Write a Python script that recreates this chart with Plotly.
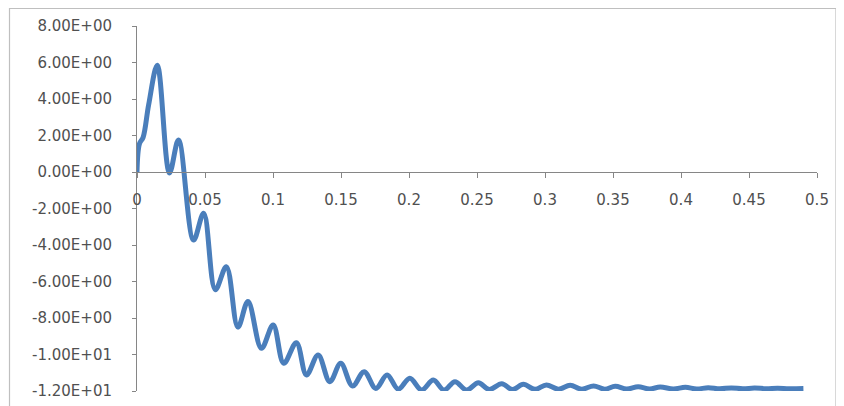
import plotly.graph_objects as go

# Extrema / key points
t_values = [0, 0.0018, 0.0045, 0.0086, 0.0149, 0.0239, 0.0305, 0.0416, 0.0490, 0.0576,
            0.0657, 0.0742, 0.0816, 0.0915, 0.1001, 0.1079, 0.1172, 0.1246, 0.1332, 0.1418,
            0.1498, 0.1585, 0.1670, 0.1756, 0.1839, 0.1921, 0.2006, 0.2093, 0.2179, 0.2258,
            0.2338, 0.2424, 0.2510, 0.2590, 0.2682, 0.2760, 0.2841, 0.2926, 0.3010, 0.3098,
            0.3185, 0.3270, 0.3357, 0.3440, 0.3516, 0.3600, 0.3685, 0.3770, 0.3847, 0.3944,
            0.4032, 0.4115, 0.4200, 0.4285, 0.4370, 0.4455, 0.4540, 0.4625, 0.4710, 0.4795,
            0.4900]
signal_values = [0, 1.55, 1.9, 3.7, 5.85, -0.05, 1.75, -3.73, -2.26, -6.45,
                 -5.19, -8.5, -7.1, -9.66, -8.38, -10.48, -9.35, -11.12, -10.03, -11.49,
                 -10.48, -11.73, -10.94, -11.86, -11.12, -11.9, -11.3, -11.95, -11.4, -11.95,
                 -11.49, -11.95, -11.55, -11.92, -11.6, -11.92, -11.63, -11.91, -11.67, -11.9,
                 -11.68, -11.9, -11.72, -11.9, -11.74, -11.89, -11.77, -11.89, -11.78, -11.89,
                 -11.8, -11.89, -11.82, -11.88, -11.83, -11.88, -11.84, -11.87, -11.85, -11.87,
                 -11.86]

y_tick_values = [8, 6, 4, 2, 0, -2, -4, -6, -8, -10, -12]
y_tick_labels = ["8.00E+00", "6.00E+00", "4.00E+00", "2.00E+00", "0.00E+00", "-2.00E+00",
                 "-4.00E+00", "-6.00E+00", "-8.00E+00", "-1.00E+01", "-1.20E+01"]
x_tick_values = [0, 0.05, 0.1, 0.15, 0.2, 0.25, 0.3, 0.35, 0.4, 0.45, 0.5]
x_tick_labels = ["0", "0.05", "0.1", "0.15", "0.2", "0.25", "0.3", "0.35", "0.4", "0.45", "0.5"]

# page body has an 8px default margin; figure is sized to fill the rest
OFF = 8
W, H = 844 - OFF, 406 - OFF
ML, MR, MT, MB = 137 - OFF, 27, 26 - OFF, 15
PW, PH = W - ML - MR, H - MT - MB

fig = go.Figure()
fig.add_trace(go.Scatter(
    x=t_values, y=signal_values, mode="lines",
    line=dict(color="#4A7EBB", width=5, shape="spline", smoothing=1.0),
    showlegend=False, hoverinfo="skip",
))

axis_color = "#868686"
font = dict(family="DejaVu Sans", size=15, color="#505050")

ymin, ymax = -12, 8
fig.update_layout(
    width=W, height=H,
    margin=dict(l=ML, r=MR, t=MT, b=MB, pad=0, autoexpand=False),
    paper_bgcolor="white", plot_bgcolor="white",
    font=font,
    xaxis=dict(
        range=[0, 0.5], tickvals=x_tick_values, ticktext=x_tick_labels,
        showgrid=False, zeroline=False, showline=True, linecolor=axis_color, linewidth=1,
        ticks="outside", ticklen=5, tickcolor=axis_color, tickwidth=1,
        anchor="free", position=(0 - ymin) / (ymax - ymin),
        ticklabelstandoff=9, tickfont=font, automargin=False,
    ),
    yaxis=dict(
        range=[ymin, ymax], tickvals=y_tick_values, ticktext=y_tick_labels,
        showgrid=False, zeroline=False, showline=True, linecolor=axis_color, linewidth=1,
        ticks="outside", ticklen=4, tickcolor=axis_color, tickwidth=1,
        ticklabelstandoff=17, tickfont=font, domain=[0, 1], automargin=False,
    ),
)

# Chart-area border (window pixel coords converted to paper fractions)
def px_x(px):
    return (px - OFF - ML) / PW

def px_y(py):
    return (H - MB - (py - OFF)) / PH

fig.add_shape(type="rect", xref="paper", yref="paper",
              x0=px_x(9.5), x1=px_x(836), y0=px_y(412), y1=px_y(8.5),
              line=dict(color="#BFBFBF", width=1.2), fillcolor="rgba(0,0,0,0)", layer="below")

fig.write_html("out.html")
